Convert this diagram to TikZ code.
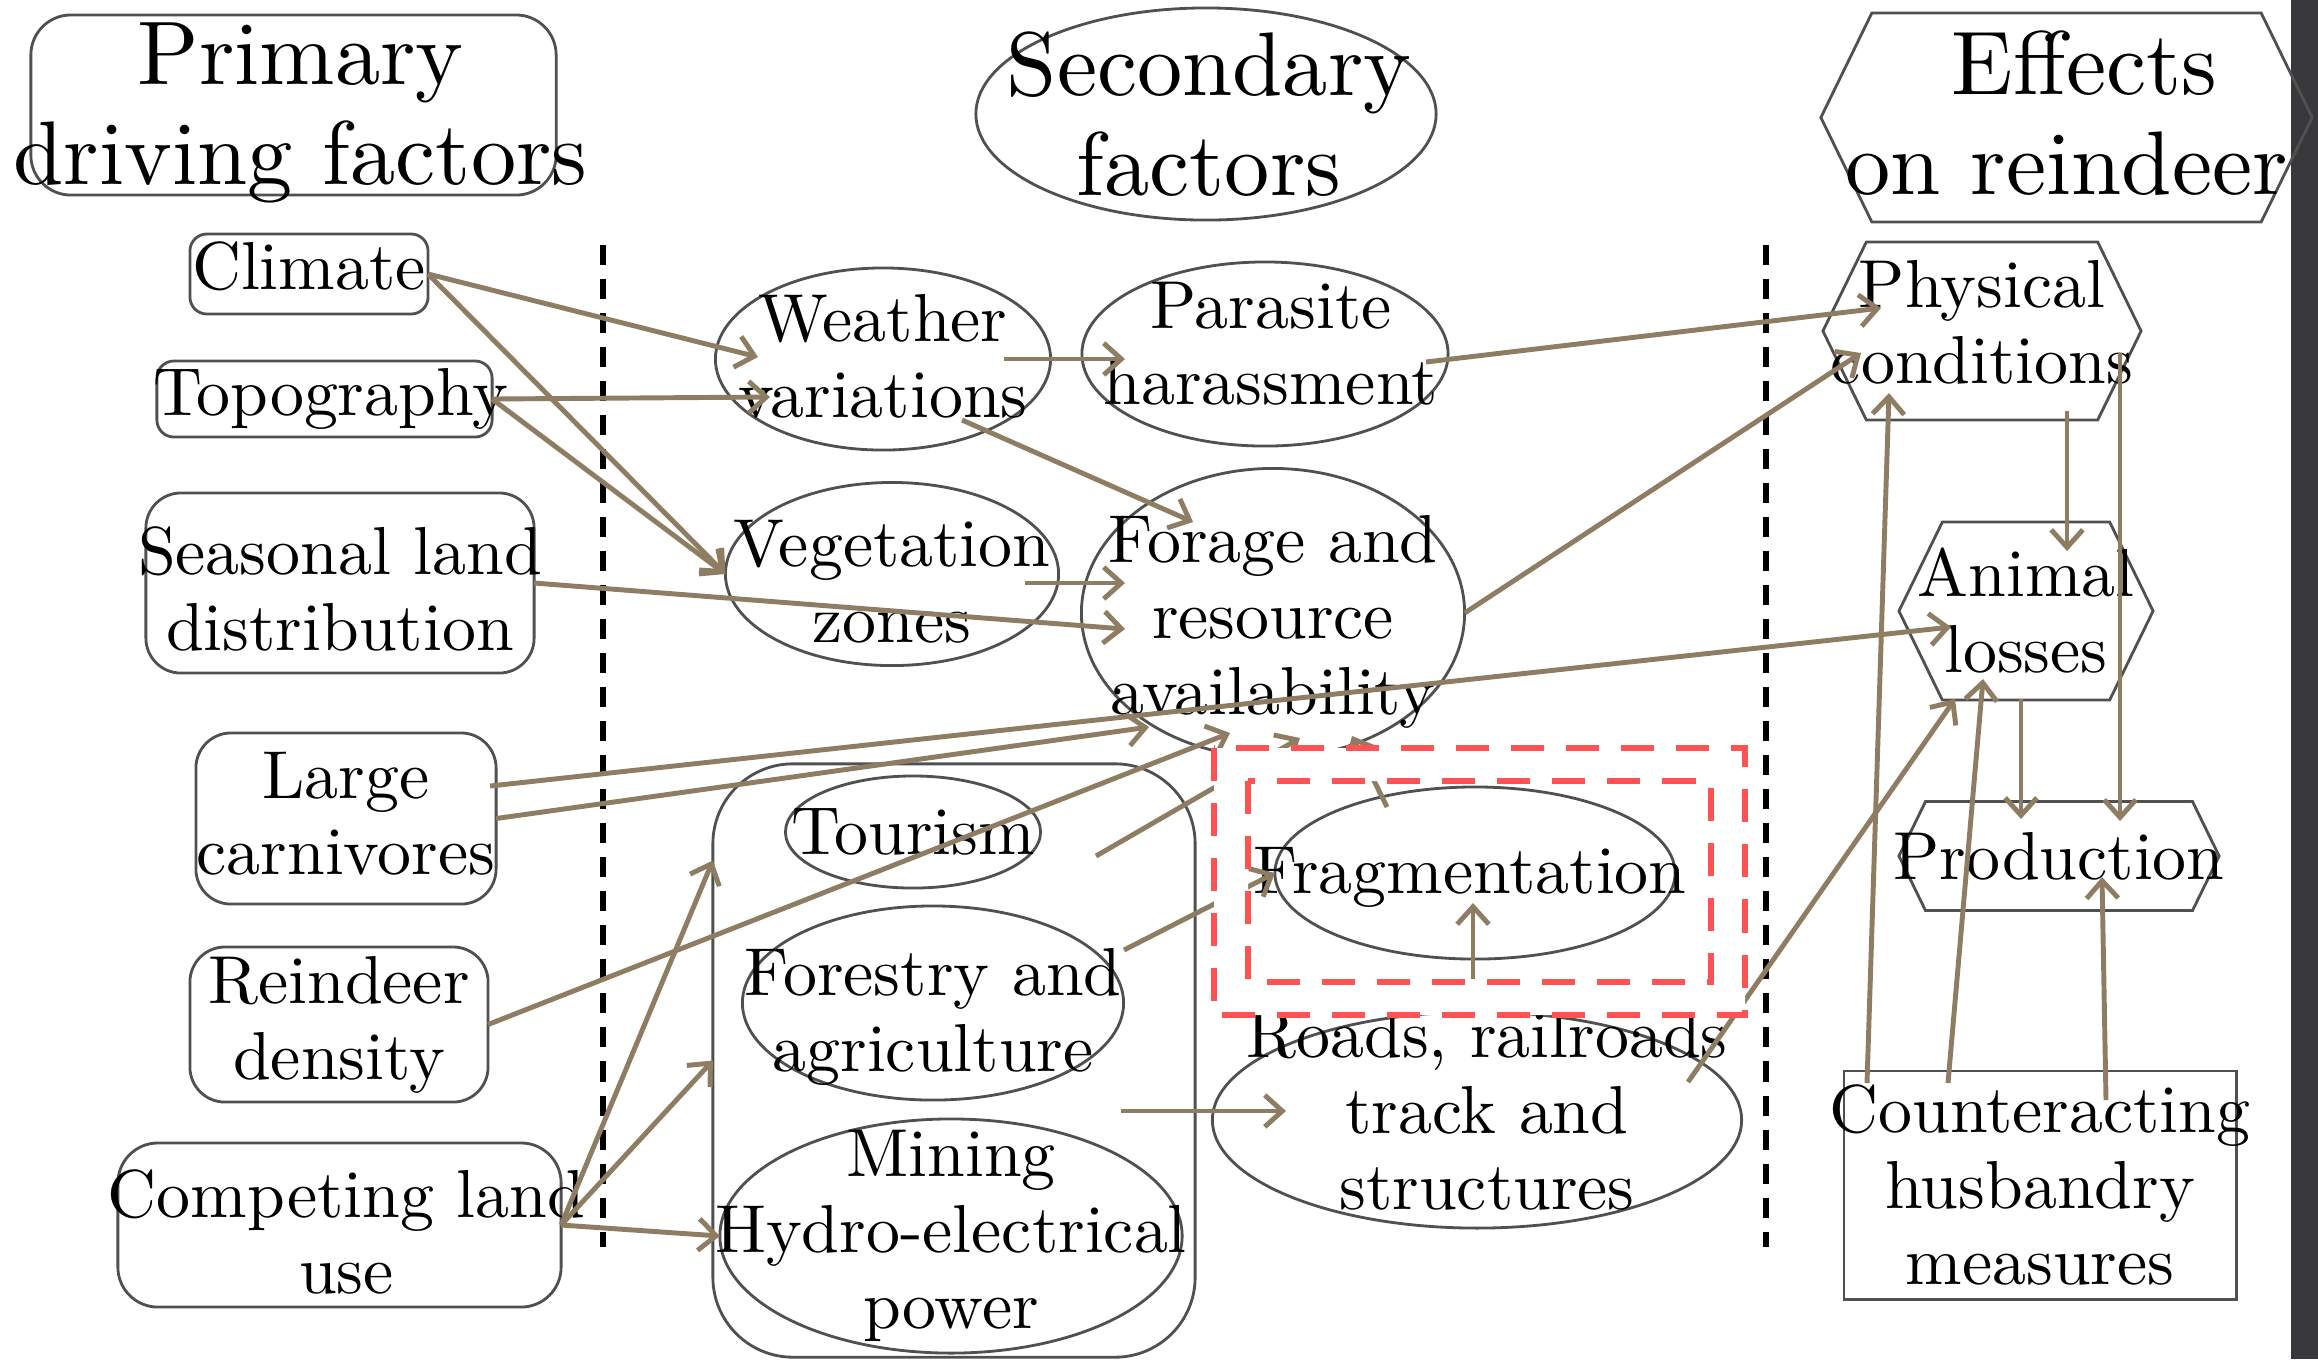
\documentclass[tikz,border=0pt]{standalone}
\usepackage{fontspec}
\setmainfont{lmroman10-regular.otf}
\usetikzlibrary{shapes,arrows.meta}

\definecolor{shapegray}{HTML}{505050}
\definecolor{arrowtan}{HTML}{8E7D63}
\definecolor{fragred}{HTML}{FF5252}
\definecolor{sidebar}{HTML}{38383B}
\newcommand{\boxfont}{\fontsize{19.3}{21.6}\selectfont}
\newcommand{\headfont}{\fontsize{25.7}{28.5}\selectfont}

\tikzset{
  base/.style={draw=shapegray, line width=0.8pt, inner sep=0pt, outer sep=0pt},
  roundbox/.style={base, rectangle, rounded corners=#1},
  plainbox/.style={base, rectangle},
  oval/.style={base, ellipse},
  hexa/.style={base, signal, signal to=west and east, signal pointer angle=128},
  every label/.style={align=center, font=\boxfont, inner sep=0pt},
  arr/.style={draw=arrowtan, line width=1.4pt, -{Straight Barb[length=5pt,width=9pt]}},
  divider/.style={line width=1.5pt, dash pattern=on 0.2cm off 0.14cm},
  fragbox/.style={draw=fragred, line width=1.6pt, dash pattern=on 0.33cm off 0.22cm},
}

\begin{document}
\begin{tikzpicture}[x=0.01cm, y=-0.01cm]
\useasboundingbox (0,0) rectangle (2318,1359);
\fill[white] (0,0) rectangle (2318,1359);
\fill[sidebar] (2291,0) rectangle (2318,1359);
\draw[divider] (603,245) -- (603,1247);
\draw[divider] (1766,245) -- (1766,1247);

% headings
\node[roundbox=0.4cm, minimum width=5.25cm, minimum height=1.80cm, label={[font=\headfont, xshift=0.07cm, yshift=-0.08cm]center:Primary\\driving factors}] (primary) at (293.5,105) {};
\node[oval, minimum width=4.60cm, minimum height=2.12cm, label={[font=\headfont, xshift=0.03cm]center:Secondary\\factors}] (secondary) at (1206,114) {};
\node[hexa, minimum width=4.91cm, minimum height=2.09cm, label={[font=\headfont, yshift=0.04cm]center:\hspace*{0.4em}Effects\\on reindeer}] (effects) at (2066.5,117.5) {};

% primary driving factors
\node[roundbox=0.17cm, minimum width=2.38cm, minimum height=0.80cm, label={[yshift=0.075cm]center:Climate}] (climate) at (309,274) {};
\node[roundbox=0.17cm, minimum width=3.35cm, minimum height=0.76cm, label={[xshift=0.06cm]center:Topography}] (topo) at (324.5,399) {};
\node[roundbox=0.35cm, minimum width=3.88cm, minimum height=1.80cm, label={[yshift=-0.055cm]center:Seasonal land\\distribution}] (seasonal) at (340,583) {};
\node[roundbox=0.35cm, minimum width=3.00cm, minimum height=1.71cm, label={[yshift=0.045cm]center:Large\\carnivores}] (carnivores) at (346,818.5) {};
\node[roundbox=0.35cm, minimum width=2.98cm, minimum height=1.55cm, label={center:Reindeer\\density}] (reindeer) at (339,1024.5) {};
\node[roundbox=0.4cm, minimum width=4.43cm, minimum height=1.64cm, label={[xshift=0.07cm, yshift=-0.065cm]center:Competing land\\use}] (landuse) at (339.5,1225) {};

% secondary factors
\node[oval, minimum width=3.35cm, minimum height=1.82cm, label={[yshift=0.03cm]center:Weather\\variations}] (weather) at (883,359) {};
\node[oval, minimum width=3.33cm, minimum height=1.83cm, label={[yshift=-0.08cm]center:Vegetation\\zones}] (vegetation) at (892,574) {};
\node[oval, minimum width=3.66cm, minimum height=1.84cm, label={[xshift=0.06cm, yshift=0.10cm]center:Parasite\\harassment}] (parasite) at (1265,354) {};
\node[oval, minimum width=3.83cm, minimum height=2.89cm, label={[yshift=-0.085cm]center:Forage and\\resource\\availability}] (forage) at (1273,613) {};
\node[roundbox=0.8cm, minimum width=4.82cm, minimum height=5.93cm] (landgroup) at (954,1060.5) {};
\node[oval, minimum width=2.55cm, minimum height=1.12cm, label={center:Tourism}] (tourism) at (913,832) {};
\node[oval, minimum width=3.81cm, minimum height=1.94cm, label={[yshift=-0.14cm]center:Forestry and\\agriculture}] (forestry) at (933,1003) {};
\node[oval, minimum width=4.62cm, minimum height=2.34cm, label={center:Mining\\Hydro-electrical\\power}] (mining) at (951,1236) {};
\node[oval, minimum width=5.29cm, minimum height=2.16cm, label={[xshift=0.1cm, yshift=0.10cm]center:Roads, railroads\\track and\\structures}] (roads) at (1477,1120) {};
\node[oval, minimum width=4.00cm, minimum height=1.72cm, label={[xshift=-0.05cm, yshift=-0.045cm]center:Fragmentation}] (fragmentation) at (1475,873) {};

% effects on reindeer
\node[hexa, minimum width=3.18cm, minimum height=1.78cm, label={[yshift=0.085cm]center:Physical\\conditions}] (physical) at (1982,331) {};
\node[hexa, minimum width=2.54cm, minimum height=1.78cm, label={center:Animal\\losses}] (losses) at (2026,611) {};
\node[hexa, minimum width=3.20cm, minimum height=1.09cm, label={center:Production}] (production) at (2059,856) {};
\node[plainbox, minimum width=3.92cm, minimum height=2.28cm, label={center:Counteracting\\husbandry\\measures}] (husbandry) at (2040,1185) {};

% links
\draw[arr] (climate.east) -- ([shift={(-125,-2)}]weather.center);
\draw[arr] (climate.east) -- (vegetation.west);
\draw[arr] (topo.east) -- ([shift={(-113,38)}]weather.center);
\draw[arr] (topo.east) -- (vegetation.west);
\draw[arr] (seasonal.east) -- ([shift={(-148,16)}]forage.center);
\draw[arr] (carnivores.east) -- ([shift={(-124,114)}]forage.center);
\draw[arr] ([shift={(144,-32.5)}]carnivores.center) -- ([shift={(-75,16)}]losses.center);
\draw[arr] (reindeer.east) -- ([shift={(-43,120)}]forage.center);
\draw[arr] (landuse.east) -- ([shift={(0,-200)}]landgroup.west);
\draw[arr] (landuse.east) -- (landgroup.west);
\draw[arr] (landuse.east) -- (mining.west);
\draw[arr] ([shift={(121,0)}]weather.center) -- ([shift={(-140,5)}]parasite.center);
\draw[arr] ([shift={(79,61)}]weather.center) -- ([shift={(-80,-91)}]forage.center);
\draw[arr] ([shift={(133,9)}]vegetation.center) -- ([shift={(-148,-30)}]forage.center);
\draw[arr] ([shift={(161,8)}]parasite.center) -- ([shift={(-101,-23)}]physical.center);
\draw[arr] (forage.east) -- ([shift={(-121,22)}]physical.center);
\draw[arr] ([shift={(183,24)}]tourism.center) -- ([shift={(27,125)}]forage.center);
\draw[arr] ([shift={(-88,-66)}]fragmentation.center) -- ([shift={(79,123)}]forage.center);
\draw[arr] ([shift={(191,-53)}]forestry.center) -- (fragmentation.west);
\draw[arr] ([shift={(167,50.5)}]landgroup.center) -- ([shift={(-191,-9)}]roads.center);
\draw[arr] ([shift={(-4,-141)}]roads.center) -- ([shift={(-2,30)}]fragmentation.center);
\draw[arr] ([shift={(211,-38)}]roads.center) -- ([shift={(-71,88)}]losses.center);
\draw[arr] ([shift={(85,80)}]physical.center) -- ([shift={(41,-60)}]losses.center);
\draw[arr] ([shift={(138,22)}]physical.center) -- ([shift={(61,-35)}]production.center);
\draw[arr] ([shift={(-5,88)}]losses.center) -- ([shift={(-38,-37)}]production.center);
\draw[arr] ([shift={(-173,-102)}]husbandry.center) -- ([shift={(-93,62)}]physical.center);
\draw[arr] ([shift={(-92,-102)}]husbandry.center) -- ([shift={(-43,68)}]losses.center);
\draw[arr] ([shift={(66,-85)}]husbandry.center) -- ([shift={(43,21)}]production.center);

% fragmentation frame
\fill[white, even odd rule] (1214,748) rectangle (1745,1015) (1248,781) rectangle (1711,982);
\draw[fragbox] (1214,748) rectangle (1745,1015);
\draw[fragbox] (1248,781) rectangle (1711,982);
\end{tikzpicture}
\end{document}
